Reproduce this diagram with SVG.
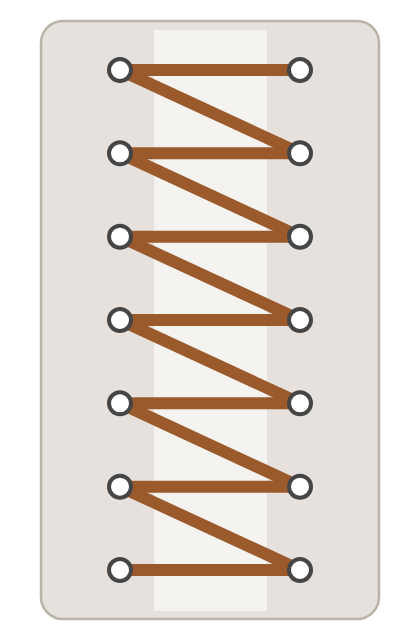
<svg xmlns="http://www.w3.org/2000/svg" width="420" height="640" viewBox="0 0 420 640">
<defs>
<style>
.lace{stroke:#9b5a2c;stroke-width:12;stroke-linecap:butt;fill:none}
.eye{fill:#ffffff;stroke:#454545;stroke-width:4}
</style>
</defs>
<rect x="41" y="21" width="338" height="598" rx="22" fill="#e6e1dc" stroke="#b9b3a8" stroke-width="2.5"/>
<rect x="154" y="30" width="113" height="581" fill="#f5f3f0"/>
<g id="connectors">
<line class="lace" x1="120" y1="70" x2="300" y2="70"/>
<line class="lace" x1="120" y1="70" x2="300" y2="153.3"/>
<line class="lace" x1="120" y1="153.3" x2="300" y2="153.3"/>
<line class="lace" x1="120" y1="153.3" x2="300" y2="236.7"/>
<line class="lace" x1="120" y1="236.7" x2="300" y2="236.7"/>
<line class="lace" x1="120" y1="236.7" x2="300" y2="320"/>
<line class="lace" x1="120" y1="320" x2="300" y2="320"/>
<line class="lace" x1="120" y1="320" x2="300" y2="403.3"/>
<line class="lace" x1="120" y1="403.3" x2="300" y2="403.3"/>
<line class="lace" x1="120" y1="403.3" x2="300" y2="486.7"/>
<line class="lace" x1="120" y1="486.7" x2="300" y2="486.7"/>
<line class="lace" x1="120" y1="486.7" x2="300" y2="570"/>
<line class="lace" x1="120" y1="570" x2="300" y2="570"/>
</g>
<g id="L1"><circle class="eye" cx="120" cy="70" r="11"/></g>
<g id="R1"><circle class="eye" cx="300" cy="70" r="11"/></g>
<g id="L2"><circle class="eye" cx="120" cy="153.3" r="11"/></g>
<g id="R2"><circle class="eye" cx="300" cy="153.3" r="11"/></g>
<g id="L3"><circle class="eye" cx="120" cy="236.7" r="11"/></g>
<g id="R3"><circle class="eye" cx="300" cy="236.7" r="11"/></g>
<g id="L4"><circle class="eye" cx="120" cy="320" r="11"/></g>
<g id="R4"><circle class="eye" cx="300" cy="320" r="11"/></g>
<g id="L5"><circle class="eye" cx="120" cy="403.3" r="11"/></g>
<g id="R5"><circle class="eye" cx="300" cy="403.3" r="11"/></g>
<g id="L6"><circle class="eye" cx="120" cy="486.7" r="11"/></g>
<g id="R6"><circle class="eye" cx="300" cy="486.7" r="11"/></g>
<g id="L7"><circle class="eye" cx="120" cy="570" r="11"/></g>
<g id="R7"><circle class="eye" cx="300" cy="570" r="11"/></g>
</svg>
